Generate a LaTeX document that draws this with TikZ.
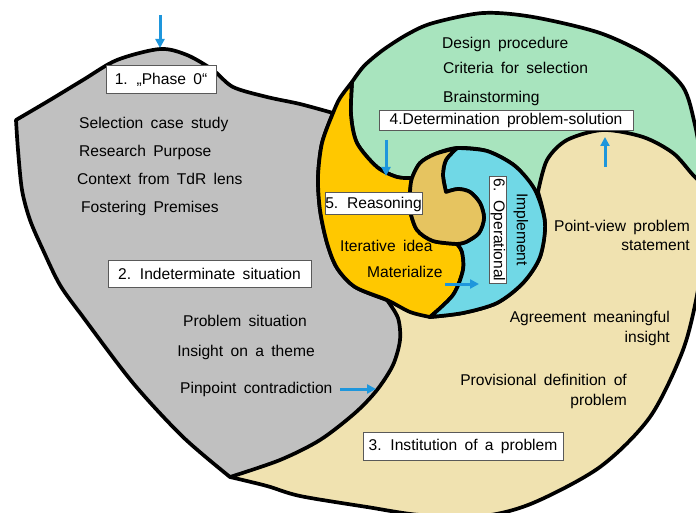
\documentclass[tikz,border=0pt]{standalone}
\usepackage{fontspec}
\setmainfont{Liberation Sans}[WordSpace=1.7]
\usetikzlibrary{arrows.meta}
\definecolor{cgray}{RGB}{192,192,192}
\definecolor{ctan}{RGB}{240,226,176}
\definecolor{cgreen}{RGB}{168,228,190}
\definecolor{cyellow}{RGB}{255,200,0}
\definecolor{cblue}{RGB}{112,216,230}
\definecolor{cbrown}{RGB}{230,196,96}
\definecolor{arrowblue}{RGB}{30,150,220}
\begin{document}
\begin{tikzpicture}[x=1pt,y=-1pt,
  outl/.style={draw=black,line width=3.7pt,line join=round,line cap=round},
  lab/.style={font=\fontsize{15.6}{19}\selectfont,inner sep=0pt},
  tag/.style={draw=black!65,fill=white,line width=1pt,font=\fontsize{15.6}{19}\selectfont,inner sep=0pt},
  arr/.style={-{Triangle[length=9pt,width=9pt]},draw=arrowblue,line width=3pt}]
\useasboundingbox (0,0) rectangle (696,513);
\clip (0,0) rectangle (696,513);
% green region
\fill[cgreen,outl] plot[smooth] coordinates{(352,82)(364,66)(383,50)(408,34)(433,23)(483,13)(533,17)(600,33)(650,57)(683,87)(695,125)(702,165)(708,200)}
  -- (600,205) -- (538,195)
  -- plot[smooth] coordinates{(538,195)(535,190)(515,166)(487,151)(457,148)(435,154)(420,163)(412,178)}
  -- plot[smooth] coordinates{(412,178)(397,177)(377,167)(357,143)(351,115)(352,82)} -- cycle;
% tan region
\fill[ctan,outl] plot[smooth] coordinates{(230,477)(267,486)(300,496)(367,507)(420,515)(483,516)(533,503)(600,467)(650,417)(683,350)(698,290)(706,230)(708,190)}
  -- plot[smooth] coordinates{(708,190)(693,175)(673,153)(643,137)(603,130)(567,140)(547,160)(538,192)}
  -- plot[smooth] coordinates{(538,192)(545,223)(540,257)(523,283)(497,303)(463,313)(430,317)}
  -- (387,300) -- cycle;
% gray region
\fill[cgray,outl] plot[smooth] coordinates{(16,120)(50,100)(83,80)(117,60)(160,49)(187,55)(213,70)(233,87)(267,97)(300,104)(333,113)}
  -- plot[smooth] coordinates{(333,113)(322,143)(318,177)(320,210)(327,243)(337,268)(355,287)(387,300)}
  -- plot[smooth] coordinates{(387,300)(398,318)(400,340)(393,365)(377,390)(355,413)(320,440)(280,460)(230,477)}
  -- plot[smooth] coordinates{(230,477)(183,437)(133,383)(83,317)(60,285)(43,250)(30,220)(22,190)(18,150)(16,120)} -- cycle;
% yellow region
\fill[cyellow,outl] plot[smooth] coordinates{(352,82)(340,98)(333,113)(322,143)(318,177)(320,210)(327,243)(337,268)(355,287)(387,300)(410,312)(430,317)}
  -- plot[smooth] coordinates{(430,317)(453,295)(463,270)(462,252)(457,244)}
  -- plot[smooth] coordinates{(457,244)(433,241)(417,230)(410,210)(410,192)(412,178)}
  -- plot[smooth] coordinates{(412,178)(397,177)(377,167)(357,143)(351,115)(352,82)} -- cycle;
% blue region
\fill[cblue,outl] plot[smooth] coordinates{(430,317)(463,313)(497,303)(523,283)(540,257)(545,223)(535,190)(515,166)(487,151)(457,148)}
  -- plot[smooth] coordinates{(457,148)(446,160)(443,175)(446,192)}
  -- plot[smooth] coordinates{(446,192)(458,189)(470,192)(480,203)(484,218)(479,233)(466,242)(457,244)}
  -- plot[smooth] coordinates{(457,244)(462,252)(463,270)(453,295)(430,317)} -- cycle;
% brown centre
\fill[cbrown,outl] plot[smooth] coordinates{(457,148)(435,154)(420,163)(412,178)(410,192)(410,210)(417,230)(433,241)(457,244)}
  -- plot[smooth] coordinates{(457,244)(466,242)(479,233)(484,218)(480,203)(470,192)(458,189)(446,192)}
  -- plot[smooth] coordinates{(446,192)(443,175)(446,160)(457,148)} -- cycle;
% arrows
\coordinate (a1s) at (160,15); \coordinate (a1e) at (160,48);
\coordinate (a2s) at (386,140); \coordinate (a2e) at (386,176);
\coordinate (a3s) at (605,167); \coordinate (a3e) at (605,137);
\coordinate (a4s) at (340,389); \coordinate (a4e) at (376,389);
\coordinate (a5s) at (445,284); \coordinate (a5e) at (479,284);
\draw[arr] (a1s) -- (a1e);
\draw[arr] (a2s) -- (a2e);
\draw[arr] (a3s) -- (a3e);
\draw[arr] (a4s) -- (a4e);
\draw[arr] (a5s) -- (a5e);
% boxes
\node[tag,minimum width=110pt,minimum height=28pt] (phase0) at (161,80) {1. „Phase 0“};
\node[tag,minimum width=203pt,minimum height=27pt] (indet) at (209.5,273.5) {2. Indeterminate situation};
\node[tag,minimum width=200pt,minimum height=28pt] (inst) at (463,446) {3. Institution of a problem};
\node[tag,minimum width=254pt,minimum height=20pt] (det) at (506,120.5) {4.Determination problem-solution};
\node[tag,minimum width=97pt,minimum height=22pt] (reas) at (373.5,204) {5. Reasoning};
\node[tag,minimum width=106pt,minimum height=17pt,rotate=-90] (oper) at (498,230) {6. Operational};
\node[lab,rotate=-90] (impl) at (521,229.5) {Implement};
% texts
\node[lab,anchor=base west] (t1) at (79,128.5) {Selection case study};
\node[lab,anchor=base west] (t2) at (79,156.5) {Research Purpose};
\node[lab,anchor=base west] (t3) at (77,184.5) {Context from TdR lens};
\node[lab,anchor=base west] (t4) at (81,212.5) {Fostering Premises};
\node[lab,anchor=base] (t5) at (245,326.5) {Problem situation};
\node[lab,anchor=base] (t6) at (246,356.5) {Insight on a theme};
\node[lab,anchor=base west] (t7) at (180,393.5) {Pinpoint contradiction};
\node[lab,anchor=base east] (t8) at (627,385.5) {Provisional definition of};
\node[lab,anchor=base east] (t9) at (627,405.5) {problem};
\node[lab,anchor=base east] (t10) at (670,322.5) {Agreement meaningful};
\node[lab,anchor=base east] (t11) at (670,342.5) {insight};
\node[lab,anchor=base east] (t12) at (690,231.5) {Point-view problem};
\node[lab,anchor=base east] (t13) at (690,250.5) {statement};
\node[lab,anchor=base west] (t14) at (442,48.5) {Design procedure};
\node[lab,anchor=base west] (t15) at (443,73.5) {Criteria for selection};
\node[lab,anchor=base west] (t16) at (443,102.5) {Brainstorming};
\node[lab,anchor=base west] (t17) at (340,251.5) {Iterative idea};
\node[lab,anchor=base west] (t18) at (367,277.5) {Materialize};
\end{tikzpicture}
\end{document}
